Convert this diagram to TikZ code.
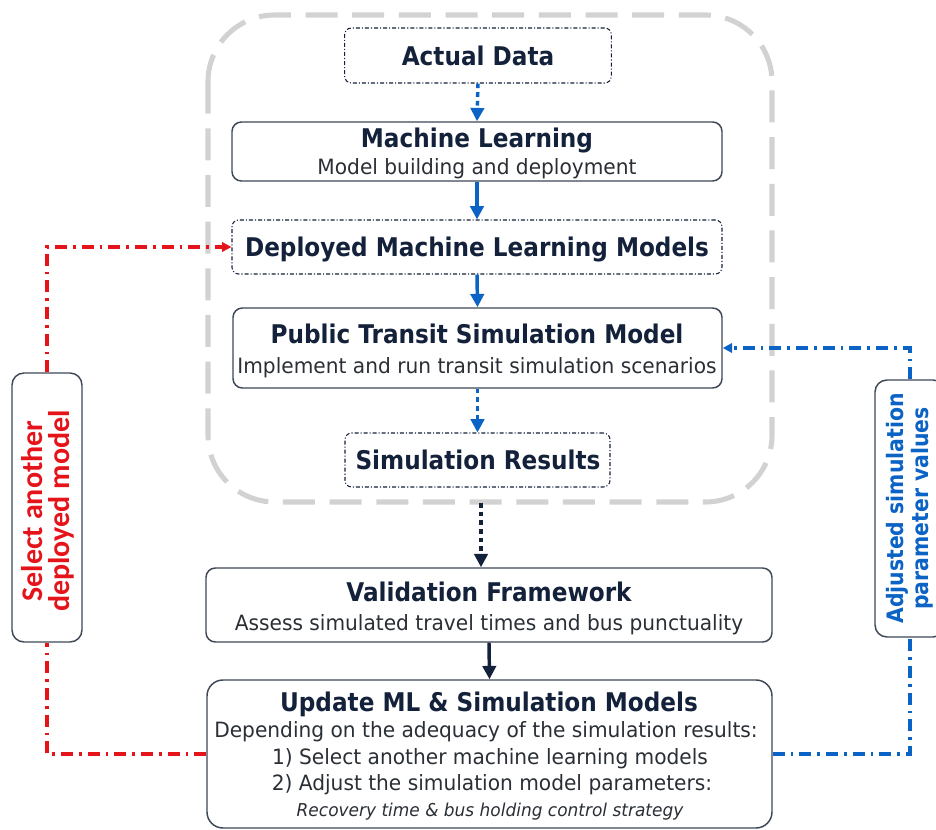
\documentclass[tikz,border=0pt]{standalone}
\usepackage{fontspec}
\setmainfont{DejaVu Sans}
\newfontfamily\tfont{DejaVu Sans}[FakeStretch=0.9]
\newfontfamily\sfont{DejaVu Sans}[FakeStretch=0.957]
\newfontfamily\rfont{Carlito}
\usetikzlibrary{arrows.meta}
\definecolor{navy}{HTML}{14213A}
\definecolor{txt}{HTML}{2A2F36}
\definecolor{bord}{HTML}{3E4856}
\definecolor{lblue}{HTML}{0B63C5}
\definecolor{lred}{HTML}{E5141B}
\definecolor{lgray}{HTML}{D2D2D2}
\tikzset{
  box/.style={draw=bord, line width=1.1pt, rounded corners=7pt, fill=white, inner sep=0pt},
  ddbox/.style={draw=navy, line width=0.8pt, dash pattern=on 3pt off 1.5pt on 0.8pt off 1.5pt, rounded corners=5pt, fill=white, inner sep=0pt},
  sidebox/.style={draw=bord, line width=1.1pt, rounded corners=9pt, fill=white, inner sep=0pt},
  ttl/.style={anchor=base, text=navy, font=\tfont\bfseries\fontsize{19.3}{22}\selectfont, inner sep=0pt},
  sub/.style={anchor=base, text=txt, font=\sfont\fontsize{15.8}{18}\selectfont, inner sep=0pt},
  arr/.style={line width=2.6pt, -{Triangle[length=10pt,width=10pt]}},
  dotarr/.style={line width=2.6pt, dash pattern=on 3.5pt off 3pt, -{Triangle[length=10pt,width=10pt]}},
  reddash/.style={draw=lred, line width=2.3pt, dash pattern=on 9pt off 4.5pt on 2pt off 4.5pt},
  bluedash/.style={draw=lblue, line width=2.3pt, dash pattern=on 9pt off 4.5pt on 2pt off 4.5pt},
}
\begin{document}
\begin{tikzpicture}[x=0.75pt,y=-0.75pt]
\useasboundingbox (0,0) rectangle (936,830);
% outer group
\draw[lgray, line width=3.8pt, dash pattern=on 24pt off 11pt, rounded corners=50pt] (208,15) rectangle (772,502);
% boxes
\node[ddbox, minimum width=200pt, minimum height=41.25pt] (ad) at (478,55.5) {};
\node[ttl] (adt) at (478,66) {Actual Data};
\node[box, minimum width=367.5pt, minimum height=44.25pt] (ml) at (477,151.5) {};
\node[ttl] (mlt) at (477,148) {Machine Learning};
\node[sub] (mls) at (477,175) {Model building and deployment};
\node[ddbox, minimum width=367.5pt, minimum height=40.5pt] (dm) at (477,247) {};
\node[ttl] (dmt) at (477,257) {Deployed Machine Learning Models};
\node[box, minimum width=366.75pt, minimum height=60pt] (pt) at (477.5,348) {};
\node[ttl] (ptt) at (477,344) {Public Transit Simulation Model};
\node[sub] (pts) at (477,374) {Implement and run transit simulation scenarios};
\node[ddbox, minimum width=198.75pt, minimum height=40.5pt] (sr) at (477.5,460) {};
\node[ttl] (srt) at (478,470) {Simulation Results};
\node[box, minimum width=424.5pt, minimum height=55.5pt] (vf) at (489,605) {};
\node[ttl] (vft) at (489,601) {Validation Framework};
\node[sub] (vfs) at (489,630) {Assess simulated travel times and bus punctuality};
\node[box, minimum width=423.75pt, minimum height=111pt, rounded corners=12pt] (up) at (489.5,754) {};
\node[ttl] (upt) at (489,711) {Update ML \& Simulation Models};
\node[sub] (up1) at (486,737) {Depending on the adequacy of the simulation results:};
\node[sub] (up2) at (490,764) {1) Select another machine learning models};
\node[sub] (up3) at (492,790) {2) Adjust the simulation model parameters:};
\node[sub, font=\sfont\itshape\fontsize{13.3}{15}\selectfont] (up4) at (490,816) {Recovery time \& bus holding control strategy};
% side boxes
\node[sidebox, minimum width=52.5pt, minimum height=201.75pt] (lb) at (47,507.5) {};
\node[rotate=90, align=center, text=lred, font=\rfont\bfseries\fontsize{22.5}{20}\selectfont] (lbt) at (48,511) {Select another\\deployed model};
\node[sidebox, minimum width=52.5pt, minimum height=192.75pt] (rb) at (910,508.5) {};
\node[rotate=90, align=center, text=lblue, font=\tfont\bfseries\fontsize{17}{19}\selectfont] (rbt) at (910,508.5) {Adjusted simulation\\parameter values};
% arrows
\draw[dotarr, lblue] (ad.south) -- (ml.north);
\draw[arr, lblue] (ml.south) -- (dm.north);
\draw[arr, lblue] (dm.south) -- (pt.north);
\draw[dotarr, lblue] (pt.south) -- (sr.north);
\coordinate (srb) at (481,503);
\draw[dotarr, navy] (srb) -- (vf.north -| srb);
\draw[arr, navy] (vf.south) -- (up.north);
% feedback loops
\draw[reddash] (up.west) -| (lb.south);
\draw[reddash, -{Triangle[length=7pt,width=7pt]}] (lb.north) |- (dm.west);
\draw[bluedash] (up.east) -| (rb.south);
\draw[bluedash, -{Triangle[length=7pt,width=7pt]}] (rb.north) |- (pt.east);
\end{tikzpicture}
\end{document}
